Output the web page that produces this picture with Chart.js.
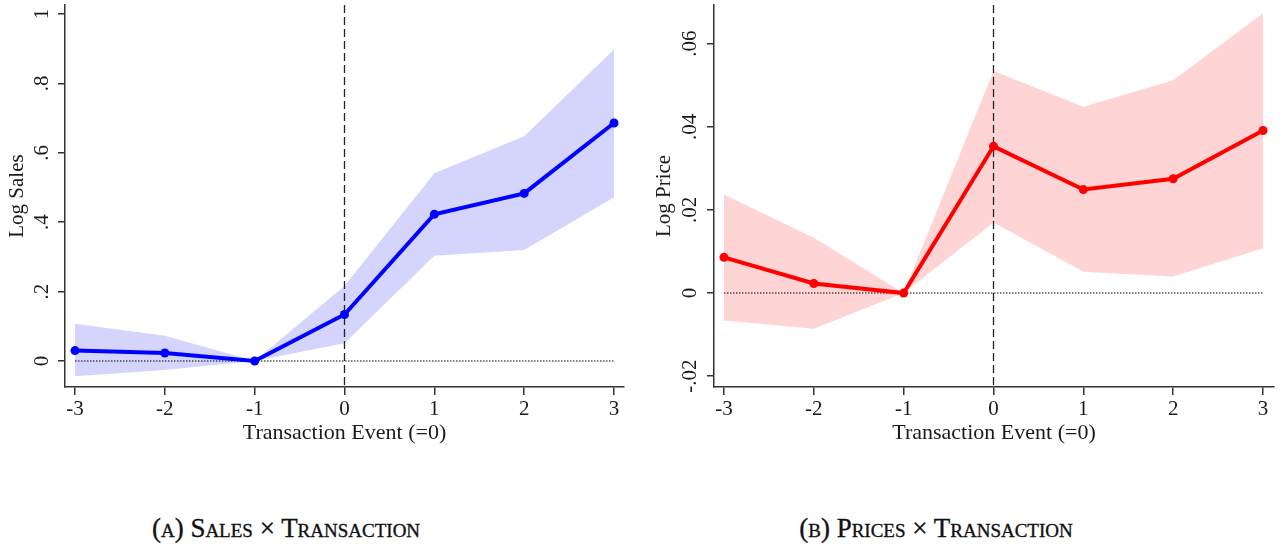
<!DOCTYPE html>
<html>
<head>
<meta charset="utf-8">
<script src="https://cdn.jsdelivr.net/npm/chart.js@4.4.1/dist/chart.umd.min.js"></script>
<style>
  body { margin: 0; background: #fff; }
  #wrap { position: relative; width: 1284px; height: 546px; overflow: hidden; }
  .box { position: absolute; top: 0; height: 450px; }
  .cap {
    position: absolute; top: 513px; transform: translateX(-50%); white-space: nowrap;
    font-family: 'Liberation Serif', 'Times New Roman', serif; font-size: 27px;
    font-variant: small-caps; color: #111; -webkit-text-stroke: 0.35px #111;
  }
</style>
</head>
<body>
<div id="wrap">
  <div class="box" style="left:0;width:640px"><canvas id="chartSales"></canvas></div>
  <div class="box" style="left:640px;width:644px"><canvas id="chartPrice"></canvas></div>
  <div class="cap" style="left:286px">(a) Sales × Transaction</div>
  <div class="cap" style="left:936px">(b) Prices × Transaction</div>
</div>
<script>
// event time relative to the transaction
const eventTimes = [-3, -2, -1, 0, 1, 2, 3];
const eventLabels = ['-3', '-2', '-1', '0', '1', '2', '3'];

// panel A: log sales
const salesCoef  = [0.030, 0.023, 0, 0.134, 0.423, 0.483, 0.686];
const salesUpper = [0.107, 0.073, 0, 0.216, 0.541, 0.648, 0.898];
const salesLower = [-0.044, -0.026, 0, 0.051, 0.303, 0.320, 0.472];
const salesTicks = [0, 0.2, 0.4, 0.6, 0.8, 1];
const salesTickLabels = ['0', '.2', '.4', '.6', '.8', '1'];

// panel B: log price
const priceCoef  = [0.0086, 0.0023, 0, 0.0353, 0.0249, 0.0275, 0.0391];
const priceUpper = [0.0237, 0.0133, 0, 0.0534, 0.0448, 0.0512, 0.0673];
const priceLower = [-0.0066, -0.0086, 0, 0.0170, 0.0051, 0.0040, 0.0108];
const priceTicks = [-0.02, 0, 0.02, 0.04, 0.06];
const priceTickLabels = ['-.02', '0', '.02', '.04', '.06'];

const serif = "'Liberation Serif', 'Times New Roman', serif";
const inkColor = '#1a1a1a';
const axisColor = '#333';

const toPoints = (vals) => eventTimes.map((t, i) => ({ x: t, y: vals[i] }));

// dotted zero line and dashed line at the event
const refLines = {
  id: 'refLines',
  beforeDatasetsDraw(chart) {
    const { ctx, chartArea, scales: { x, y } } = chart;
    ctx.save();
    ctx.strokeStyle = '#000';
    ctx.lineWidth = 1.1;
    ctx.setLineDash([1.5, 1.5]);
    ctx.beginPath();
    ctx.moveTo(x.getPixelForValue(eventTimes[0]), y.getPixelForValue(0));
    ctx.lineTo(x.getPixelForValue(eventTimes[eventTimes.length - 1]), y.getPixelForValue(0));
    ctx.stroke();
    ctx.strokeStyle = '#222';
    ctx.setLineDash([8, 4]);
    ctx.lineWidth = 1.3;
    const ex = x.getPixelForValue(0);
    ctx.beginPath();
    ctx.moveTo(ex, chartArea.top);
    ctx.lineTo(ex, chartArea.bottom);
    ctx.stroke();
    ctx.restore();
  }
};

function makeChart(id, cfg) {
  const ctx = document.getElementById(id);
  return new Chart(ctx, {
    type: 'line',
    data: {
      datasets: [
        {
          data: toPoints(cfg.coef),
          borderColor: cfg.line, backgroundColor: cfg.line,
          borderWidth: 4, pointRadius: 4.5, pointBorderWidth: 0,
          pointBackgroundColor: cfg.line, tension: 0
        },
        {
          data: toPoints(cfg.upper),
          borderWidth: 0, borderColor: 'rgba(0,0,0,0)', pointRadius: 0,
          backgroundColor: cfg.band, fill: '+1'
        },
        {
          data: toPoints(cfg.lower),
          borderWidth: 0, borderColor: 'rgba(0,0,0,0)', pointRadius: 0, fill: false
        }
      ]
    },
    options: {
      animation: false,
      responsive: true,
      maintainAspectRatio: false,
      layout: { padding: { top: 5, right: cfg.padRight, left: 0, bottom: 0 } },
      plugins: {
        legend: { display: false },
        tooltip: { enabled: false },
        filler: { drawTime: 'beforeDatasetsDraw' }
      },
      scales: {
        x: {
          type: 'linear', min: cfg.xMin, max: cfg.xMax,
          afterBuildTicks: (s) => { s.ticks = eventTimes.map(v => ({ value: v })); },
          afterFit: (s) => { s.height = 63; s.paddingLeft = 0; s.paddingRight = 0; },
          ticks: {
            callback: (v) => eventLabels[eventTimes.indexOf(v)],
            maxRotation: 0, padding: 2, color: inkColor,
            font: { family: serif, size: 21 }
          },
          grid: { drawOnChartArea: false, tickLength: 8, color: axisColor, lineWidth: 1.5 },
          border: { color: axisColor, width: 1.5 },
          title: {
            display: true, text: 'Transaction Event (=0)', color: inkColor,
            font: { family: serif, size: 22 }, padding: { top: 0, bottom: 4 }
          }
        },
        y: {
          type: 'linear', min: cfg.yMin, max: cfg.yMax,
          afterBuildTicks: (s) => { s.ticks = cfg.ticks.map(v => ({ value: v })); },
          afterFit: (s) => { s.width = cfg.axisWidth; s.paddingTop = 0; s.paddingBottom = 0; },
          ticks: {
            callback: (v) => cfg.tickLabels[cfg.ticks.indexOf(v)],
            minRotation: 90, maxRotation: 90, crossAlign: 'center',
            padding: cfg.tickPad, color: inkColor,
            font: { family: serif, size: 21 }
          },
          grid: { drawOnChartArea: false, tickLength: 7, color: axisColor, lineWidth: 1.5 },
          border: { color: axisColor, width: 1.5 },
          title: {
            display: true, text: cfg.title, color: inkColor,
            font: { family: serif, size: 21 }, padding: { top: cfg.titlePad, bottom: 0 }
          }
        }
      }
    },
    plugins: [refLines]
  });
}

makeChart('chartSales', {
  coef: salesCoef, upper: salesUpper, lower: salesLower,
  ticks: salesTicks, tickLabels: salesTickLabels, title: 'Log Sales',
  line: '#0000ff', band: 'rgba(40, 40, 240, 0.2)',
  xMin: -3.111, xMax: 3.111, yMin: -0.075, yMax: 1.026,
  axisWidth: 65, padRight: 16, tickPad: 8, titlePad: 5
});

makeChart('chartPrice', {
  coef: priceCoef, upper: priceUpper, lower: priceLower,
  ticks: priceTicks, tickLabels: priceTickLabels, title: 'Log Price',
  line: '#ff0000', band: 'rgba(250, 60, 60, 0.22)',
  xMin: -3.111, xMax: 3.122, yMin: -0.0226, yMax: 0.0693,
  axisWidth: 74, padRight: 10, tickPad: 0, titlePad: 12
});
</script>
</body>
</html>
